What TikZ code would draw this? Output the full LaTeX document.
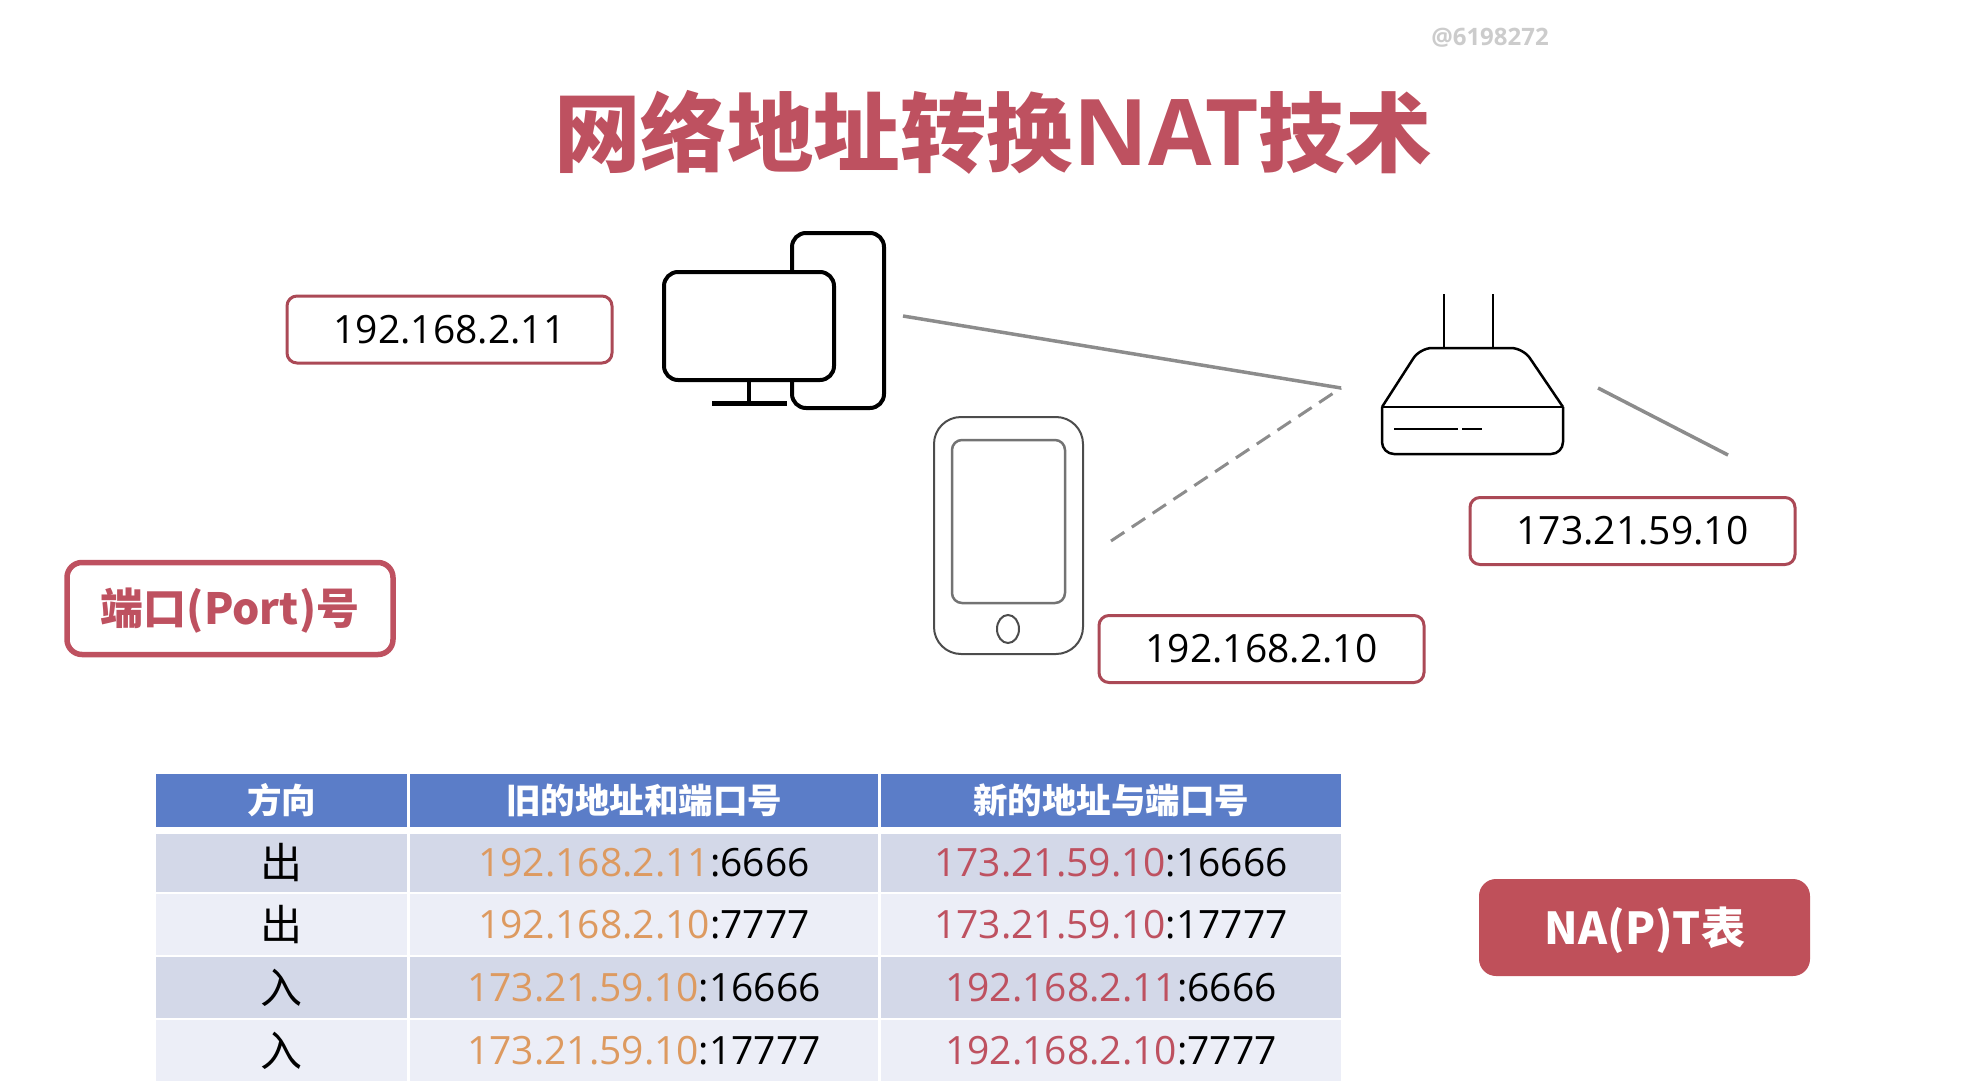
\documentclass[tikz,border=0pt]{standalone}
\usepackage{fontspec}
\usepackage{xcolor}
\setmainfont{Open Sans}
\newfontfamily\cjk{Noto Sans CJK SC}
\usetikzlibrary{positioning}
\definecolor{natred}{HTML}{BE5160}
\definecolor{natfill}{HTML}{BF505A}
\definecolor{oldip}{HTML}{DD9A60}
\definecolor{headblue}{HTML}{5B7DC8}
\definecolor{rowdark}{HTML}{D3D8E8}
\definecolor{rowlight}{HTML}{ECEEF7}
\newcommand{\oldaddr}[2]{\textcolor{oldip}{#1}:#2}
\newcommand{\newaddr}[2]{\textcolor{natred}{#1}:#2}
\tikzset{
  ipbox/.style={draw=natred!90!black, line width=3pt, rounded corners=10pt, inner sep=0pt,
    minimum width=325pt, minimum height=67pt, font=\fontsize{39}{46}\selectfont},
  link/.style={draw=black!45, line width=3.5pt},
  devline/.style={line width=4pt, rounded corners=14pt},
  routerline/.style={line width=2.5pt, line join=round},
  headcell/.style={fill=headblue, text=white, inner sep=0pt, minimum height=53pt,
    font=\cjk\bfseries\fontsize{34.5}{40}\selectfont},
  cell/.style={inner sep=0pt, font=\fontsize{39}{46}\selectfont},
  dircell/.style={cell, font=\cjk\fontsize{42}{50}\selectfont},
  colone/.style={minimum width=251pt},
  coltwo/.style={minimum width=468pt},
  colthree/.style={minimum width=460pt},
  dark/.style={fill=rowdark},
  light/.style={fill=rowlight}
}
\begin{document}
\begin{tikzpicture}[x=1pt, y=-1pt]
  \useasboundingbox (0,0) rectangle (1964,1086);

  % Titel und Wasserzeichen
  \node[text=natred, font=\cjk\bfseries\fontsize{86.5}{100}\selectfont] (title) at (993,132)
    {网络地址转换{\rmfamily\bfseries\fontsize{92}{100}\selectfont NAT}技术};
  \node[text=black!20, font=\bfseries\fontsize{24}{28}\selectfont] (mark) at (1490,38) {@6198272};

  % Rechner
  \draw[devline] (792,272) -- (792,233) -- (884,233) -- (884,408) -- (792,408) -- (792,380);
  \draw[devline] (664,272) rectangle (834,380);
  \draw[line width=4pt] (749,380) -- (749,403);
  \draw[line width=5pt] (712,403) -- (787,403);

  % Handy
  \draw[black!70, line width=2pt, rounded corners=27pt] (934,417) rectangle (1083,654);
  \draw[black!55, line width=2.5pt, rounded corners=10pt] (952,440) rectangle (1065,603);
  \draw[black!70, line width=2pt] (1008,629) ellipse (11 and 14);

  % Router
  \draw[routerline, rounded corners=12pt] (1382,407) -- (1420,348) -- (1523,348) -- (1563,407);
  \draw[routerline, rounded corners=12pt] (1382,407) -- (1382,454) -- (1563,454) -- (1563,407);
  \draw[routerline] (1382,407) -- (1563,407);
  \draw[routerline] (1444,294) -- (1444,348);
  \draw[routerline] (1493,294) -- (1493,348);
  \draw[routerline] (1394,429) -- (1458,429);
  \draw[routerline] (1462,429) -- (1482,429);

  % Leitungen
  \coordinate (hub) at (1341,388);
  \coordinate (pcend) at (903,316);
  \coordinate (phoneend) at (1111,541);
  \coordinate (wanin) at (1598,388);
  \coordinate (wanout) at (1728,455);
  \draw[link] (pcend) -- (hub);
  \draw[link, line width=3pt, dash pattern=on 16pt off 9pt] (phoneend) -- (hub);
  \draw[link] (wanin) -- (wanout);

  % Adressen
  \node[ipbox] (pcip) at (449.5,329.5) {192.168.2.11};
  \node[ipbox] (phoneip) at (1261.5,649) {192.168.2.10};
  \node[ipbox] (wanip) at (1632.5,531) {173.21.59.10};

  % Schilder
  \node[draw=natred, line width=5.5pt, rounded corners=15pt, inner sep=0pt,
    minimum width=326pt, minimum height=92pt] (port) at (230,608.5) {};
  \node[text=natred, font=\cjk\bfseries\fontsize{43}{50}\selectfont] (porttext) at (230,610.5) {端口(Port)号};
  \node[fill=natfill, rounded corners=17pt, inner sep=0pt,
    minimum width=331pt, minimum height=97pt] (natp) at (1644.5,927.5) {};
  \node[text=white, font=\cjk\bfseries\fontsize{44}{52}\selectfont] (natptext) at (1645,930) {NA(P)T表};

  % Tabellenkopf
  \node[headcell, colone] (headdir) at (281.5,800.5) {方向};
  \node[headcell, coltwo] (headold) at (644,800.5) {旧的地址和端口号};
  \node[headcell, colthree] (headnew) at (1111,800.5) {新的地址与端口号};

  % Zeile 1
  \node[dircell, colone, dark, minimum height=58pt] (dirone) at (281.5,863) {出};
  \node[cell, coltwo, dark, minimum height=58pt] (oldone) at (644,863) {\oldaddr{192.168.2.11}{6666}};
  \node[cell, colthree, dark, minimum height=58pt] (newone) at (1111,863) {\newaddr{173.21.59.10}{16666}};

  % Zeile 2
  \node[dircell, colone, light, minimum height=61pt] (dirtwo) at (281.5,924.5) {出};
  \node[cell, coltwo, light, minimum height=61pt] (oldtwo) at (644,924.5) {\oldaddr{192.168.2.10}{7777}};
  \node[cell, colthree, light, minimum height=61pt] (newtwo) at (1111,924.5) {\newaddr{173.21.59.10}{17777}};

  % Zeile 3
  \node[dircell, colone, dark, minimum height=61pt] (dirthree) at (281.5,987.5) {入};
  \node[cell, coltwo, dark, minimum height=61pt] (oldthree) at (644,987.5) {\oldaddr{173.21.59.10}{16666}};
  \node[cell, colthree, dark, minimum height=61pt] (newthree) at (1111,987.5) {\newaddr{192.168.2.11}{6666}};

  % Zeile 4
  \node[dircell, colone, light, minimum height=61pt] (dirfour) at (281.5,1050.5) {入};
  \node[cell, coltwo, light, minimum height=61pt] (oldfour) at (644,1050.5) {\oldaddr{173.21.59.10}{17777}};
  \node[cell, colthree, light, minimum height=61pt] (newfour) at (1111,1050.5) {\newaddr{192.168.2.10}{7777}};

\end{tikzpicture}
\end{document}
